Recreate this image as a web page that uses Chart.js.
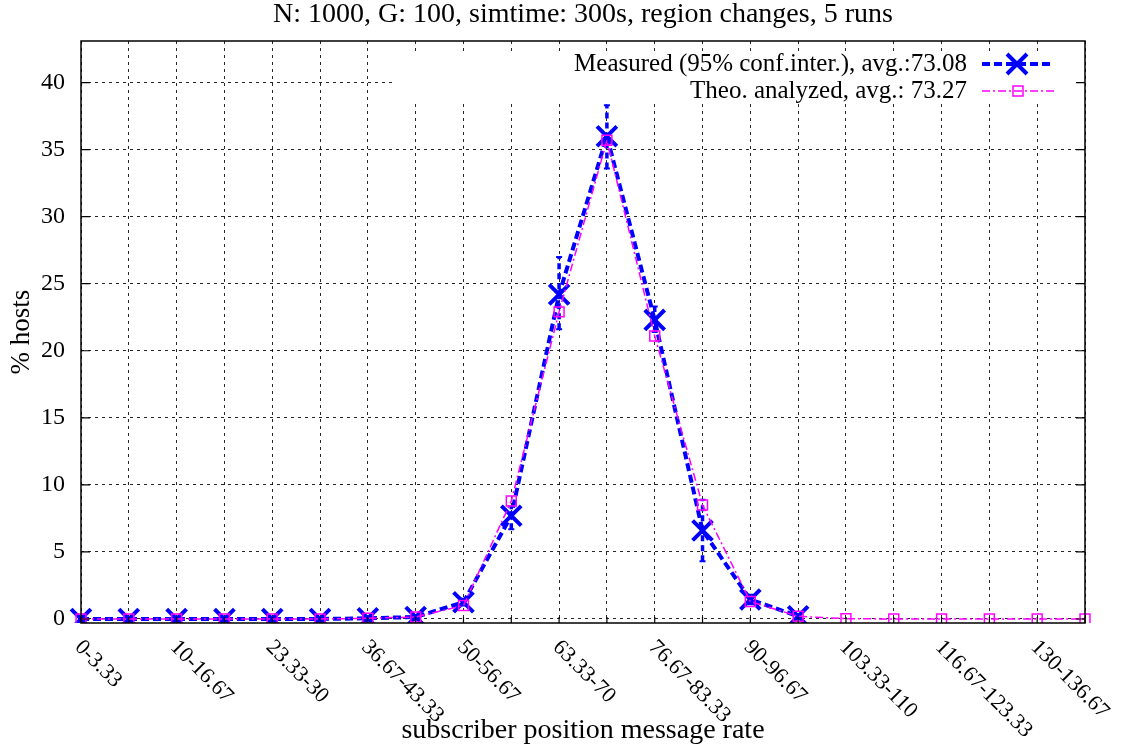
<!DOCTYPE html>
<html><head><meta charset="utf-8">
<script src="https://cdn.jsdelivr.net/npm/chart.js@4.4.1/dist/chart.umd.min.js"></script>
<style>html,body{margin:0;padding:0;background:#fff}#wrap{width:1133px;height:749px;position:relative}</style>
</head><body><div id="wrap"><canvas id="c" width="1133" height="749"></canvas></div>
<script>
const categories = ['0-3.33','3.33-10','10-16.67','16.67-23.33','23.33-30','30-36.67','36.67-43.33','43.33-50','50-56.67','56.67-63.33','63.33-70','70-76.67','76.67-83.33','83.33-90','90-96.67','96.67-103.33','103.33-110','110-116.67','116.67-123.33','123.33-130','130-136.67','136.67-143.33'];
const xTickLabels = ['0-3.33','10-16.67','23.33-30','36.67-43.33','50-56.67','63.33-70','76.67-83.33','90-96.67','103.33-110','116.67-123.33','130-136.67'];
const yTicks = [0,5,10,15,20,25,30,35,40];
const measured = [0,0,0,0,0,0,0.05,0.15,1.25,7.7,24.2,36.0,22.3,6.6,1.45,0.2];
const measuredLow = [0,0,0,0,0,0,0.0,0.05,1.0,6.7,21.6,33.6,21.4,4.3,1.1,0.05];
const measuredHigh = [0,0,0,0,0,0,0.1,0.25,1.5,8.4,27.0,38.3,23.3,8.9,1.8,0.35];
const theo = [0,0,0,0,0,0,0.05,0.15,1.0,8.8,22.9,35.7,21.1,8.5,1.3,0.2,0.02,0,0,0,0,0];
const measuredLabel = 'Measured (95% conf.inter.), avg.:73.08';
const theoLabel = 'Theo. analyzed, avg.: 73.27';
const titleText = 'N: 1000, G: 100, simtime: 300s, region changes, 5 runs';

const SERIF = '"Liberation Serif", "DejaVu Serif", serif';
const BLUE = '#0000ff', MAG = '#ff00ff';
const blueDash = [8,4], magDash = [8,3,2,3];

const gnuplotPlugin = {
  id: 'gnuplot',
  beforeDatasetsDraw(chart) {
    const {ctx} = chart;
    const x = chart.scales.x, y = chart.scales.y;
    ctx.save();
    ctx.fillStyle = '#fff';
    ctx.fillRect(392, 51, 685, 51);
    ctx.restore();
    ctx.save();
    ctx.strokeStyle = BLUE;
    for (let i = 0; i < measured.length; i++) {
      const px = x.getPixelForValue(i);
      const y1 = y.getPixelForValue(measuredLow[i]);
      const y2 = y.getPixelForValue(measuredHigh[i]);
      if (Math.abs(y1 - y2) < 2) continue;
      ctx.lineWidth = 3.5;
      ctx.setLineDash([6,4]);
      ctx.beginPath(); ctx.moveTo(px, y1); ctx.lineTo(px, y2); ctx.stroke();
      ctx.setLineDash([]);
      ctx.lineWidth = 2;
      ctx.beginPath(); ctx.moveTo(px - 3, y1); ctx.lineTo(px + 3, y1); ctx.moveTo(px - 3, y2); ctx.lineTo(px + 3, y2); ctx.stroke();
    }
    ctx.restore();
  },
  afterDraw(chart) {
    const {ctx, chartArea: a} = chart;
    const x = chart.scales.x, y = chart.scales.y;
    ctx.save();
    // title
    ctx.fillStyle = '#000';
    ctx.font = '28px ' + SERIF;
    ctx.textAlign = 'center';
    ctx.textBaseline = 'middle';
    ctx.fillText(titleText, (a.left + a.right) / 2, 15);
    // frame
    ctx.strokeStyle = '#000';
    ctx.lineWidth = 1.5;
    ctx.setLineDash([]);
    ctx.strokeRect(a.left, a.top, a.right - a.left, a.bottom - a.top);
    ctx.lineWidth = 1.2;
    ctx.beginPath();
    for (let i = 0; i < categories.length; i++) {
      const px = x.getPixelForValue(i);
      ctx.moveTo(px, a.bottom); ctx.lineTo(px, a.bottom - 6);
    }
    for (const v of yTicks) {
      const py = y.getPixelForValue(v);
      ctx.moveTo(a.left, py); ctx.lineTo(a.left + 9, py);
      ctx.moveTo(a.right, py); ctx.lineTo(a.right - 9, py);
    }
    ctx.stroke();
    ctx.font = '22px ' + SERIF;
    ctx.textAlign = 'left';
    ctx.textBaseline = 'middle';
    for (const lab of xTickLabels) {
      const idx = categories.indexOf(lab);
      const px = x.getPixelForValue(idx);
      ctx.save();
      ctx.translate(px - 3, 644);
      ctx.rotate(Math.PI / 4);
      ctx.fillText(lab, 0, 0);
      ctx.restore();
    }
    ctx.font = '25px ' + SERIF;
    ctx.textAlign = 'right';
    ctx.textBaseline = 'middle';
    ctx.fillText(chart.data.datasets[0].label, 967, 64);
    ctx.fillText(chart.data.datasets[1].label, 967, 91);
    ctx.strokeStyle = BLUE; ctx.lineWidth = 4; ctx.setLineDash(blueDash);
    ctx.beginPath(); ctx.moveTo(982, 64); ctx.lineTo(1054, 64); ctx.stroke();
    ctx.setLineDash([]);
    ctx.beginPath(); ctx.moveTo(1007, 54); ctx.lineTo(1027, 74); ctx.moveTo(1007, 74); ctx.lineTo(1027, 54); ctx.stroke();
    ctx.strokeStyle = MAG; ctx.lineWidth = 1.5; ctx.setLineDash(magDash);
    ctx.beginPath(); ctx.moveTo(982, 91); ctx.lineTo(1054, 91); ctx.stroke();
    ctx.setLineDash([]);
    ctx.strokeRect(1013, 86, 10, 10);
    ctx.restore();
  }
};

new Chart(document.getElementById('c'), {
  type: 'line',
  data: {
    labels: categories,
    datasets: [
      {
        label: measuredLabel, data: measured, order: 1,
        borderColor: BLUE, backgroundColor: 'rgba(0,0,0,0)', borderWidth: 4, borderDash: blueDash,
        pointStyle: 'crossRot', pointRadius: 14, pointBorderWidth: 4, pointBorderColor: BLUE,
        tension: 0, fill: false
      },
      {
        label: theoLabel, data: theo, order: 0,
        borderColor: MAG, backgroundColor: 'rgba(0,0,0,0)', borderWidth: 1.5, borderDash: magDash,
        pointStyle: 'rect', pointRadius: 7, pointBorderWidth: 1.5, pointBorderColor: MAG, pointBackgroundColor: 'rgba(0,0,0,0)',
        tension: 0, fill: false
      }
    ]
  },
  options: {
    responsive: false, animation: false, devicePixelRatio: 1,
    layout: {padding: {left: 0, right: 48, top: 41, bottom: 0}},
    plugins: {
      legend: {display: false},
      tooltip: {enabled: false},
      title: {display: false}
    },
    scales: {
      x: {
        type: 'category', offset: false,
        grid: {display: true, color: 'rgba(0,0,0,0.85)', lineWidth: 1, drawTicks: false, offset: false},
        border: {display: false, dash: [3,4]},
        ticks: {display: false},
        title: {display: true, text: 'subscriber position message rate', color: '#000', font: {family: SERIF, size: 28, lineHeight: 1}, padding: {top: 0, bottom: 4}},
        afterFit: s => { s.height = 126; }
      },
      y: {
        type: 'linear', min: -0.3, max: 43.1,
        afterBuildTicks: s => { s.ticks = yTicks.map(v => ({value: v})); },
        grid: {display: true, color: 'rgba(0,0,0,0.85)', lineWidth: 1, drawTicks: false},
        border: {display: false, dash: [3,4]},
        ticks: {color: '#000', font: {family: SERIF, size: 24}, padding: 16},
        title: {display: true, text: '% hosts', color: '#000', font: {family: SERIF, size: 27, lineHeight: 1}, padding: {top: 8, bottom: 0}},
        afterFit: s => { s.width = 81; }
      }
    }
  },
  plugins: [gnuplotPlugin]
});
</script>
</body></html>
